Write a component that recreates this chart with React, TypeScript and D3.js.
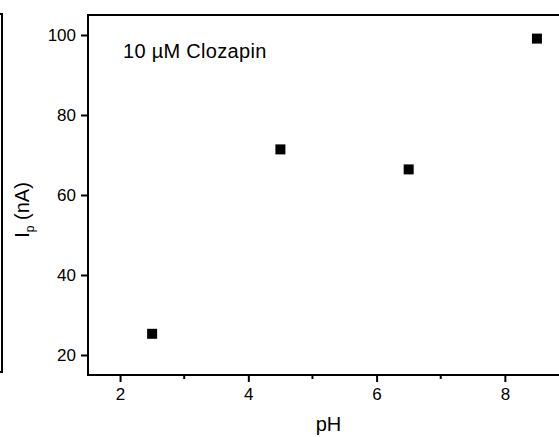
import React, { useEffect, useRef } from 'react';
import * as d3 from 'd3';

// pH of the buffer and peak current (nA) for 10 µM clozapin
const phValues = [2.5, 4.5, 6.5, 8.5];
const currentValues = [25.3, 71.4, 66.4, 99.1];
const xTicks = [2, 4, 6, 8];
const xMinorTicks = [3, 5, 7];
const yTicks = [20, 40, 60, 80, 100];

const width = 559;
const height = 437;
const font = '"Liberation Sans", Arial, sans-serif';

export default function App() {
  const ref = useRef<SVGSVGElement>(null);

  useEffect(() => {
    const svg = d3.select(ref.current);
    svg.selectAll('*').remove();

    const left = 88, right = 569, top = 15, bottom = 375;
    const x = d3.scaleLinear().domain([1.5, 9]).range([left, right]);
    const y = d3.scaleLinear().domain([15, 105]).range([bottom, top]);

    // edge of the neighbouring panel, cut off at the left
    svg.append('path')
      .attr('d', 'M0,14H2V372H0')
      .attr('fill', 'none')
      .attr('stroke', '#000')
      .attr('stroke-width', 2);

    // x axis
    const xAxis = svg.append('g')
      .attr('transform', `translate(0,${bottom})`)
      .call(d3.axisBottom(x).tickValues(xTicks).tickSize(7).tickSizeOuter(0).tickPadding(6).tickFormat(d3.format('d')));
    xAxis.select('.domain').remove();
    xAxis.selectAll('line').attr('stroke-width', 2);
    xAxis.selectAll('text')
      .attr('font-family', font)
      .attr('font-size', 17)
      .attr('fill', '#000');

    svg.append('g')
      .selectAll('line')
      .data(xMinorTicks)
      .join('line')
        .attr('x1', d => x(d))
        .attr('x2', d => x(d))
        .attr('y1', bottom)
        .attr('y2', bottom + 4)
        .attr('stroke', '#000')
        .attr('stroke-width', 2);

    // y axis
    const yAxis = svg.append('g')
      .attr('transform', `translate(${left},0)`)
      .call(d3.axisLeft(y).tickValues(yTicks).tickSize(7).tickSizeOuter(0).tickPadding(5));
    yAxis.select('.domain').remove();
    yAxis.selectAll('line').attr('stroke-width', 2);
    yAxis.selectAll('text')
      .attr('font-family', font)
      .attr('font-size', 17)
      .attr('fill', '#000');

    // frame
    svg.append('rect')
      .attr('x', left)
      .attr('y', top)
      .attr('width', right - left)
      .attr('height', bottom - top)
      .attr('fill', 'none')
      .attr('stroke', '#000')
      .attr('stroke-width', 2);

    // points
    const pts = phValues.map((p, i) => ({ p, v: currentValues[i] }));
    svg.append('g')
      .selectAll('rect')
      .data(pts)
      .join('rect')
        .attr('x', d => x(d.p) - 5)
        .attr('y', d => y(d.v) - 5)
        .attr('width', 10)
        .attr('height', 10)
        .attr('fill', '#000');

    svg.append('text')
      .attr('x', 123)
      .attr('y', 58)
      .attr('font-family', font)
      .attr('font-size', 20)
      .attr('letter-spacing', 0.3)
      .text('10 µM Clozapin');

    svg.append('text')
      .attr('x', (left + right) / 2)
      .attr('y', 431)
      .attr('text-anchor', 'middle')
      .attr('font-family', font)
      .attr('font-size', 20)
      .text('pH');

    const yl = svg.append('text')
      .attr('transform', 'translate(29,210) rotate(-90)')
      .attr('text-anchor', 'middle')
      .attr('font-family', font)
      .attr('font-size', 20);
    yl.append('tspan').text('I');
    yl.append('tspan').attr('font-size', 12).attr('dy', 5).text('p');
    yl.append('tspan').attr('dy', -5).text(' (nA)');
  }, []);

  return (
    <svg
      ref={ref}
      width={width}
      height={height}
      style={{ position: 'absolute', left: 0, top: 0, background: '#fff' }}
    />
  );
}
